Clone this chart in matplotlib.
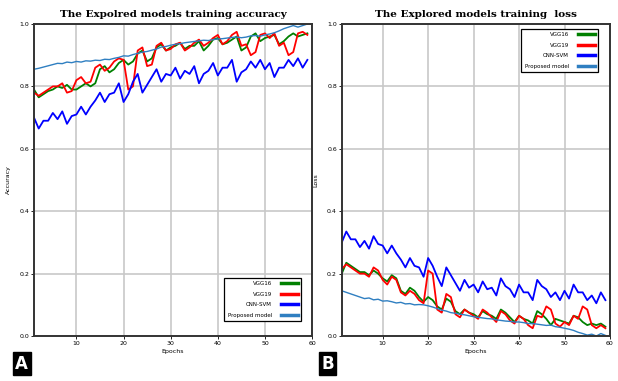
import numpy as np
import matplotlib
matplotlib.use('Agg')
import matplotlib.pyplot as plt

epochs = list(range(1, 60))

# training accuracy
acc_vgg16 = [0.79, 0.765, 0.775, 0.785, 0.79, 0.80, 0.795, 0.805, 0.79, 0.79,
             0.80, 0.81, 0.80, 0.81, 0.855, 0.865, 0.845, 0.855, 0.875, 0.885,
             0.87, 0.88, 0.905, 0.915, 0.88, 0.89, 0.925, 0.935, 0.915, 0.925,
             0.93, 0.94, 0.92, 0.93, 0.93, 0.945, 0.915, 0.93, 0.95, 0.955,
             0.935, 0.94, 0.95, 0.96, 0.915, 0.925, 0.96, 0.97, 0.945, 0.955,
             0.96, 0.965, 0.935, 0.945, 0.96, 0.97, 0.96, 0.965, 0.97]
acc_vgg19 = [0.78, 0.77, 0.78, 0.79, 0.80, 0.80, 0.81, 0.78, 0.785, 0.82,
             0.83, 0.81, 0.815, 0.86, 0.87, 0.85, 0.86, 0.88, 0.89, 0.885,
             0.79, 0.80, 0.915, 0.925, 0.865, 0.87, 0.93, 0.94, 0.915, 0.92,
             0.935, 0.94, 0.915, 0.925, 0.94, 0.95, 0.93, 0.94, 0.955, 0.965,
             0.935, 0.945, 0.965, 0.975, 0.93, 0.935, 0.90, 0.91, 0.965, 0.97,
             0.955, 0.97, 0.93, 0.94, 0.90, 0.91, 0.97, 0.975, 0.965]
acc_cnnsvm = [0.70, 0.665, 0.69, 0.69, 0.715, 0.695, 0.72, 0.68, 0.705, 0.71,
              0.735, 0.71, 0.735, 0.755, 0.78, 0.75, 0.775, 0.78, 0.81, 0.75,
              0.775, 0.815, 0.84, 0.78, 0.805, 0.83, 0.855, 0.815, 0.84, 0.835,
              0.86, 0.825, 0.85, 0.84, 0.865, 0.81, 0.84, 0.85, 0.875, 0.835,
              0.86, 0.86, 0.885, 0.815, 0.845, 0.855, 0.88, 0.86, 0.885, 0.855,
              0.875, 0.83, 0.86, 0.86, 0.885, 0.865, 0.89, 0.86, 0.885]
acc_proposed = [0.855, 0.858, 0.862, 0.866, 0.87, 0.874, 0.873, 0.878, 0.876, 0.88,
                0.878, 0.882, 0.881, 0.884, 0.883, 0.887, 0.886, 0.89, 0.893, 0.898,
                0.897, 0.902, 0.906, 0.91, 0.912, 0.916, 0.92, 0.926, 0.928, 0.932,
                0.935, 0.937, 0.94, 0.942, 0.944, 0.946, 0.948, 0.947, 0.95, 0.952,
                0.953, 0.955, 0.957, 0.958, 0.956, 0.958, 0.962, 0.963, 0.961, 0.965,
                0.968, 0.972, 0.978, 0.985, 0.99, 0.995, 0.99, 0.995, 1.0]

# training loss
loss_vgg16 = [0.20, 0.235, 0.225, 0.215, 0.205, 0.205, 0.195, 0.21, 0.20, 0.185,
              0.175, 0.195, 0.185, 0.145, 0.135, 0.155, 0.145, 0.125, 0.11, 0.125,
              0.115, 0.095, 0.085, 0.12, 0.11, 0.08, 0.07, 0.085, 0.075, 0.07,
              0.06, 0.08, 0.07, 0.065, 0.055, 0.085, 0.075, 0.06, 0.045, 0.065,
              0.055, 0.05, 0.04, 0.08, 0.07, 0.055, 0.035, 0.055, 0.05, 0.045,
              0.04, 0.065, 0.06, 0.045, 0.035, 0.04, 0.035, 0.04, 0.03]
loss_vgg19 = [0.215, 0.23, 0.22, 0.21, 0.20, 0.20, 0.19, 0.22, 0.21, 0.18,
              0.165, 0.19, 0.18, 0.14, 0.13, 0.145, 0.135, 0.115, 0.105, 0.21,
              0.20, 0.085, 0.075, 0.135, 0.125, 0.07, 0.06, 0.085, 0.075, 0.065,
              0.055, 0.085, 0.075, 0.06, 0.045, 0.08, 0.07, 0.05, 0.04, 0.065,
              0.055, 0.035, 0.025, 0.065, 0.06, 0.095, 0.085, 0.04, 0.03, 0.045,
              0.035, 0.065, 0.055, 0.095, 0.085, 0.035, 0.025, 0.035, 0.025]
loss_cnnsvm = [0.30, 0.335, 0.31, 0.31, 0.285, 0.305, 0.28, 0.32, 0.295, 0.29,
               0.265, 0.29, 0.265, 0.245, 0.22, 0.25, 0.225, 0.22, 0.19, 0.25,
               0.225, 0.19, 0.16, 0.22, 0.195, 0.17, 0.145, 0.18, 0.155, 0.165,
               0.14, 0.175, 0.15, 0.155, 0.13, 0.185, 0.16, 0.15, 0.125, 0.165,
               0.14, 0.14, 0.115, 0.18, 0.16, 0.15, 0.125, 0.14, 0.115, 0.145,
               0.12, 0.165, 0.14, 0.14, 0.115, 0.13, 0.105, 0.14, 0.115]
loss_proposed = [0.145, 0.14, 0.135, 0.13, 0.125, 0.12, 0.122, 0.116, 0.118, 0.112,
                 0.113, 0.11, 0.106, 0.108, 0.103, 0.104, 0.10, 0.101, 0.10, 0.097,
                 0.093, 0.088, 0.083, 0.08, 0.075, 0.073, 0.07, 0.068, 0.065, 0.062,
                 0.06, 0.058, 0.056, 0.055, 0.052, 0.05, 0.048, 0.047, 0.045, 0.045,
                 0.043, 0.04, 0.04, 0.038, 0.036, 0.034, 0.035, 0.03, 0.028, 0.025,
                 0.022, 0.018, 0.012, 0.008, 0.003, 0.006, 0.0, 0.008, 0.002]

names = ['VGG16', 'VGG19', 'CNN-SVM', 'Proposed model']
colors = ['#008000', '#ff0000', '#0000ff', '#2f7fc1']

fig = plt.figure(figsize=(6.18, 3.81), dpi=100)
axA = fig.add_axes([0.055, 0.118, 0.450, 0.819])
axB = fig.add_axes([0.553, 0.118, 0.434, 0.819])

panels = [
    (axA, [acc_vgg16, acc_vgg19, acc_cnnsvm, acc_proposed],
     'The Expolred models training accuracy', 'Accuracy', 'lower right', (0.96, 0.048)),
    (axB, [loss_vgg16, loss_vgg19, loss_cnnsvm, loss_proposed],
     'The Explored models training  loss', 'Loss', 'upper right', (0.955, 0.984)),
]

for ax, series, title, ylab, legloc, legpos in panels:
    for vals, name, c in zip(series, names, colors):
        lw = 1.0 if name == 'Proposed model' else 1.3
        ax.plot(epochs, vals, color=c, lw=lw, label=name)
    ax.set_xlim(1, 60)
    ax.set_ylim(0, 1.0)
    ax.set_xticks([10, 20, 30, 40, 50, 60])
    ax.set_yticks([0.0, 0.2, 0.4, 0.6, 0.8, 1.0])
    ax.grid(True, color='#c8c8c8', lw=1.2)
    ax.set_axisbelow(True)
    ax.tick_params(labelsize=4.5, length=2, width=0.6, pad=1.5)
    for s in ax.spines.values():
        s.set_linewidth(1.4)
        s.set_color('#333333')
    ax.set_title(title, fontsize=7.5, fontweight='bold', family='DejaVu Serif', pad=5)
    ax.set_xlabel('Epochs', fontsize=4.5, labelpad=2)
    ax.set_ylabel(ylab, fontsize=4.5, labelpad=6)
    leg = ax.legend(loc=legloc, bbox_to_anchor=legpos, fontsize=4,
                    markerfirst=False, handlelength=3.0, handletextpad=1.6,
                    fancybox=False, framealpha=1, borderpad=0.6, labelspacing=1.0,
                    borderaxespad=0)
    leg.get_frame().set_edgecolor('black')
    leg.get_frame().set_linewidth(0.9)
    for h in leg.get_lines():
        h.set_linewidth(2.5)

for xpos, letter in [(0.035, 'A'), (0.53, 'B')]:
    fig.text(xpos, 0.045, letter, color='white', fontsize=12, fontweight='bold',
             ha='center', va='center',
             bbox=dict(boxstyle='square,pad=0.15', fc='black', ec='black'))

fig.savefig('out.png', dpi=100)
